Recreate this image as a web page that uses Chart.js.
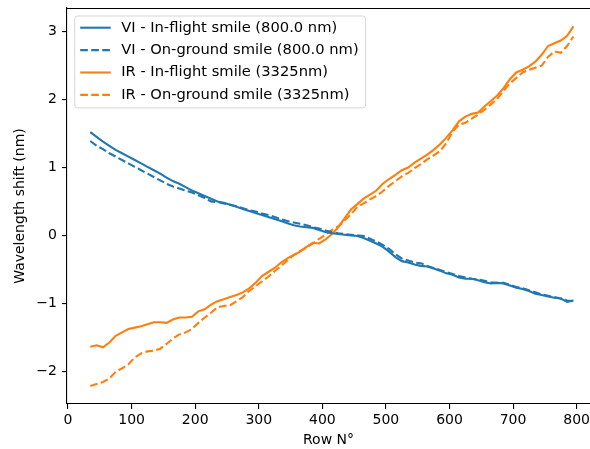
<!DOCTYPE html>
<html>
<head>
<meta charset="utf-8">
<script src="https://cdn.jsdelivr.net/npm/chart.js@4.4.1/dist/chart.umd.min.js"></script>
<style>
html, body { margin: 0; padding: 0; background: #fff; overflow: hidden; }
#wrap { position: relative; width: 590px; height: 449px; }
</style>
</head>
<body>
<div id="wrap"><canvas id="c"></canvas></div>
<script>
// Row numbers (x)
const rows = [35,45,55,65,75,85,95,105,115,125,135,145,155,165,175,185,195,205,215,225,
  235,245,255,265,275,285,295,305,315,325,335,345,355,365,375,385,395,405,415,425,
  435,445,455,465,475,485,495,505,515,525,535,545,555,565,575,585,595,605,615,625,
  635,645,655,665,675,685,695,705,715,725,735,745,755,765,775,785,795];

const viInFlight = [1.52,1.45,1.38,1.32,1.26,1.21,1.16,1.11,1.06,1.01,0.96,0.91,0.85,0.80,0.76,0.71,0.66,0.62,0.58,0.54,
  0.50,0.48,0.45,0.42,0.39,0.36,0.33,0.30,0.27,0.24,0.21,0.18,0.15,0.13,0.12,0.11,0.08,0.05,0.03,0.02,
  0.01,0.00,-0.01,-0.04,-0.08,-0.12,-0.17,-0.24,-0.32,-0.38,-0.40,-0.43,-0.45,-0.46,-0.49,-0.52,-0.56,-0.58,-0.62,-0.64,
  -0.64,-0.66,-0.69,-0.71,-0.70,-0.71,-0.74,-0.77,-0.79,-0.82,-0.86,-0.88,-0.90,-0.92,-0.93,-0.98,-0.96];

const viOnGround = [1.39,1.32,1.27,1.21,1.16,1.11,1.06,1.01,0.96,0.91,0.86,0.81,0.76,0.72,0.69,0.66,0.63,0.59,0.55,0.50,
  0.49,0.47,0.45,0.43,0.40,0.37,0.35,0.32,0.30,0.27,0.24,0.21,0.19,0.17,0.15,0.12,0.10,0.07,0.05,0.03,
  0.02,0.01,0.00,-0.01,-0.05,-0.09,-0.14,-0.20,-0.28,-0.34,-0.37,-0.40,-0.41,-0.45,-0.48,-0.51,-0.54,-0.57,-0.60,-0.62,
  -0.64,-0.65,-0.67,-0.69,-0.70,-0.70,-0.73,-0.76,-0.78,-0.81,-0.84,-0.87,-0.89,-0.91,-0.93,-0.96,-0.97];

const irInFlight = [-1.64,-1.62,-1.65,-1.58,-1.48,-1.43,-1.38,-1.36,-1.34,-1.31,-1.28,-1.28,-1.29,-1.24,-1.21,-1.21,-1.20,-1.12,-1.09,-1.02,
  -0.97,-0.94,-0.91,-0.88,-0.84,-0.78,-0.70,-0.60,-0.54,-0.48,-0.40,-0.34,-0.29,-0.24,-0.17,-0.11,-0.12,-0.06,0.02,0.12,
  0.25,0.38,0.46,0.54,0.60,0.66,0.76,0.83,0.89,0.96,1.00,1.07,1.13,1.19,1.26,1.34,1.44,1.55,1.68,1.75,
  1.79,1.81,1.90,1.98,2.06,2.17,2.30,2.40,2.44,2.49,2.56,2.66,2.79,2.83,2.87,2.94,3.08];

const irOnGround = [-2.22,-2.19,-2.16,-2.11,-2.01,-1.96,-1.90,-1.80,-1.74,-1.71,-1.70,-1.67,-1.60,-1.52,-1.46,-1.43,-1.38,-1.29,-1.21,-1.14,
  -1.06,-1.04,-1.03,-0.97,-0.91,-0.82,-0.75,-0.68,-0.61,-0.53,-0.45,-0.37,-0.29,-0.23,-0.18,-0.12,-0.05,0.01,0.08,0.13,
  0.22,0.31,0.42,0.47,0.53,0.58,0.65,0.73,0.80,0.87,0.92,0.99,1.05,1.12,1.18,1.24,1.36,1.53,1.63,1.66,
  1.72,1.78,1.85,1.93,2.01,2.13,2.24,2.32,2.40,2.44,2.47,2.50,2.63,2.71,2.69,2.79,2.93];

const seriesLabels = ['VI - In-flight smile (800.0 nm)', 'VI - On-ground smile (800.0 nm)',
  'IR - In-flight smile (3325nm)', 'IR - On-ground smile (3325nm)'];
const xTickValues = [0,100,200,300,400,500,600,700,800];
const yTickValues = [-2,-1,0,1,2,3];

const FONT = "'DejaVu Sans', sans-serif";
const BLUE = '#1f77b4', ORANGE = '#ff7f0e';
const DASH = [7.7, 3.3];

function pts(vals) { return rows.map((r, i) => ({x: r, y: vals[i]})); }

const frame = {
  id: 'frame',
  afterDraw(chart) {
    const {ctx, chartArea: a} = chart;
    ctx.save();
    ctx.strokeStyle = '#000';
    ctx.lineWidth = 1.1;
    ctx.beginPath();
    ctx.moveTo(a.left, a.top + 0.5);
    ctx.lineTo(a.right, a.top + 0.5);
    ctx.stroke();
    ctx.restore();
  }
};

const boxLegend = {
  id: 'boxLegend',
  afterDraw(chart) {
    const {ctx, chartArea: a} = chart;
    const ds = chart.data.datasets;
    ctx.save();
    ctx.font = '14.7px ' + FONT;
    let maxW = 0;
    ds.forEach(d => { maxW = Math.max(maxW, ctx.measureText(d.label).width); });
    const bx = a.left + 7.7, by = a.top + 8;
    const textX = bx + 46.5;
    const bw = (textX - bx) + maxW + 7;
    const rowH = 22.4;
    const bh = 11.7 + rowH * (ds.length - 1) + 13;
    const r = 3;
    ctx.beginPath();
    ctx.moveTo(bx + r, by);
    ctx.arcTo(bx + bw, by, bx + bw, by + bh, r);
    ctx.arcTo(bx + bw, by + bh, bx, by + bh, r);
    ctx.arcTo(bx, by + bh, bx, by, r);
    ctx.arcTo(bx, by, bx + bw, by, r);
    ctx.closePath();
    ctx.fillStyle = 'rgba(255,255,255,0.8)';
    ctx.fill();
    ctx.strokeStyle = '#d6d6d6';
    ctx.lineWidth = 1;
    ctx.stroke();
    ds.forEach((d, i) => {
      const y = by + 11.7 + i * rowH;
      ctx.beginPath();
      ctx.setLineDash(d.borderDash || []);
      ctx.strokeStyle = d.borderColor;
      ctx.lineWidth = d.borderWidth;
      ctx.moveTo(bx + 5.5, y);
      ctx.lineTo(bx + 36, y);
      ctx.stroke();
      ctx.setLineDash([]);
      ctx.fillStyle = '#000';
      ctx.textBaseline = 'middle';
      ctx.textAlign = 'left';
      ctx.fillText(d.label, textX, y);
    });
    ctx.restore();
  }
};

new Chart(document.getElementById('c'), {
  type: 'line',
  data: {
    datasets: [
      {label: seriesLabels[0], data: pts(viInFlight), borderColor: BLUE, borderWidth: 2.1},
      {label: seriesLabels[1], data: pts(viOnGround), borderColor: BLUE, borderWidth: 2.1, borderDash: DASH},
      {label: seriesLabels[2], data: pts(irInFlight), borderColor: ORANGE, borderWidth: 2.1},
      {label: seriesLabels[3], data: pts(irOnGround), borderColor: ORANGE, borderWidth: 2.1, borderDash: DASH}
    ]
  },
  options: {
    responsive: true,
    maintainAspectRatio: false,
    animation: false,
    layout: {padding: {left: 0, top: 8, right: 0, bottom: 0}},
    elements: {point: {radius: 0}, line: {tension: 0, fill: false}},
    plugins: {legend: {display: false}, tooltip: {enabled: false}},
    scales: {
      x: {
        type: 'linear',
        min: -1.6,
        max: 821,
        afterFit(s) { s.height = 45; s.paddingLeft = 0; s.paddingRight = 0; s.paddingTop = 0; s.paddingBottom = 0; },
        afterBuildTicks(s) { s.ticks = xTickValues.map(v => ({value: v})); },
        grid: {drawOnChartArea: false, drawTicks: true, tickLength: 5, color: '#000', lineWidth: 1.1},
        border: {display: true, color: '#000', width: 1.1},
        ticks: {color: '#000', font: {family: FONT, size: 14}, padding: 3, maxRotation: 0, autoSkip: false},
        title: {display: true, text: 'Row N°', color: '#000', font: {family: FONT, size: 14}, padding: {top: 0, bottom: 0}}
      },
      y: {
        type: 'linear',
        min: -2.485,
        max: 3.35,
        afterFit(s) { s.width = 67; s.paddingLeft = 0; s.paddingRight = 0; s.paddingTop = 0; s.paddingBottom = 0; },
        afterBuildTicks(s) { s.ticks = yTickValues.map(v => ({value: v})); },
        grid: {drawOnChartArea: false, drawTicks: true, tickLength: 5, color: '#000', lineWidth: 1.1},
        border: {display: true, color: '#000', width: 1.1},
        ticks: {color: '#000', font: {family: FONT, size: 14}, padding: 5,
          callback: v => (v < 0 ? '\u2212' + Math.abs(v) : String(v))},
        title: {display: true, text: 'Wavelength shift (nm)', color: '#000', font: {family: FONT, size: 14}, padding: {top: 12, bottom: 0}}
      }
    }
  },
  plugins: [frame, boxLegend]
});
</script>
</body>
</html>
